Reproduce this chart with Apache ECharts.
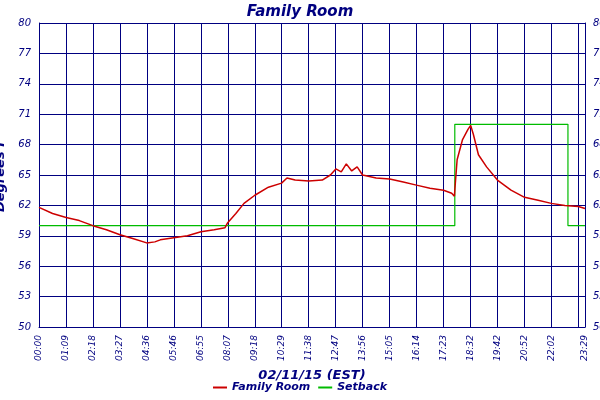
<!DOCTYPE html>
<html><head><meta charset="utf-8">
<script src="https://cdn.jsdelivr.net/npm/echarts@6/dist/echarts.min.js"></script>
<style>html,body{margin:0;padding:0;background:#fff}#c{width:600px;height:400px}</style>
</head><body><div id="c"></div>
<script>
var tickLabels = ["00:00","01:09","02:18","03:27","04:36","05:46","06:55","08:07","09:18","10:29","11:38","12:47","13:56","15:05","16:14","17:23","18:32","19:42","20:52","22:02","23:12"];
var lastLabel = "23:29";
// minutes since midnight
var roomMinutes = [0,35,70,104,139,174,209,244,278,299,313,348,383,418,452,480,487,508,529,557,592,626,640,661,696,731,752,766,780,793,807,821,835,870,905,940,974,1009,1044,1065,1072,1073,1079,1093,1107,1114,1121,1134,1155,1183,1218,1253,1288,1322,1357,1392,1409];
var roomValues  = [61.8,61.2,60.8,60.5,60.0,59.6,59.1,58.7,58.3,58.4,58.6,58.8,59.0,59.4,59.6,59.8,60.3,61.2,62.2,63.0,63.8,64.2,64.7,64.5,64.4,64.5,65.0,65.6,65.3,66.1,65.4,65.8,65.0,64.7,64.6,64.3,64.0,63.7,63.5,63.2,62.9,63.5,66.5,68.5,69.5,69.9,69.0,67.0,65.8,64.5,63.5,62.8,62.5,62.2,62.0,61.9,61.7];
var setbackMinutes = [0,1073,1073,1365,1365,1409];
var setbackValues  = [60,60,70,70,60,60];

var navy = '#000080';
var font = 'DejaVu Sans';
var chart = echarts.init(document.getElementById('c'));
function zip(a,b){return a.map(function(v,i){return [v,b[i]];});}
var yAxisBase = {type:'value',min:50,max:80,interval:3,
  axisLine:{show:true,lineStyle:{color:navy}},axisTick:{show:false},
  splitLine:{show:true,lineStyle:{color:navy,width:1}},
  axisLabel:{color:navy,fontStyle:'italic',fontFamily:font,fontSize:10}};
chart.setOption({
  animation:false,
  title:{text:'Family Room',left:'center',top:0,textStyle:{color:navy,fontStyle:'italic',fontWeight:'bold',fontFamily:font,fontSize:15}},
  grid:{left:39,right:15,top:23,bottom:73,containLabel:false,outerBoundsMode:'none'},
  legend:{bottom:2,left:'center',itemWidth:14,itemHeight:2,icon:'rect',
    textStyle:{color:navy,fontStyle:'italic',fontWeight:'bold',fontFamily:font,fontSize:11},
    data:['Family Room','Setback']},
  xAxis:{type:'value',min:0,max:1409,interval:69.6,
    name:'02/11/15 (EST)',nameLocation:'middle',nameGap:42,
    nameTextStyle:{color:navy,fontStyle:'italic',fontWeight:'bold',fontFamily:font,fontSize:13},
    axisLine:{lineStyle:{color:navy}},axisTick:{show:false},
    splitLine:{show:true,lineStyle:{color:navy,width:1}},
    axisLabel:{rotate:90,color:navy,fontStyle:'italic',fontFamily:font,fontSize:9,showMaxLabel:true,hideOverlap:false,interval:0,
      formatter:function(v){ if(v>=1409) return lastLabel; var i=Math.round(v/69.6); return tickLabels[i]||''; }}},
  yAxis:[
    Object.assign({},yAxisBase,{position:'left',name:'Degrees F',nameLocation:'middle',nameGap:24,
      nameTextStyle:{color:navy,fontStyle:'italic',fontWeight:'bold',fontFamily:font,fontSize:13}}),
    Object.assign({},yAxisBase,{position:'right',splitLine:{show:false}})
  ],
  series:[
    {name:'Family Room',type:'line',symbol:'none',data:zip(roomMinutes,roomValues),lineStyle:{color:'#cc0000',width:1.5},itemStyle:{color:'#cc0000'}},
    {name:'Setback',type:'line',symbol:'none',data:zip(setbackMinutes,setbackValues),lineStyle:{color:'#00bb00',width:1.2},itemStyle:{color:'#00bb00'},z:1}
  ]
});
</script></body></html>
